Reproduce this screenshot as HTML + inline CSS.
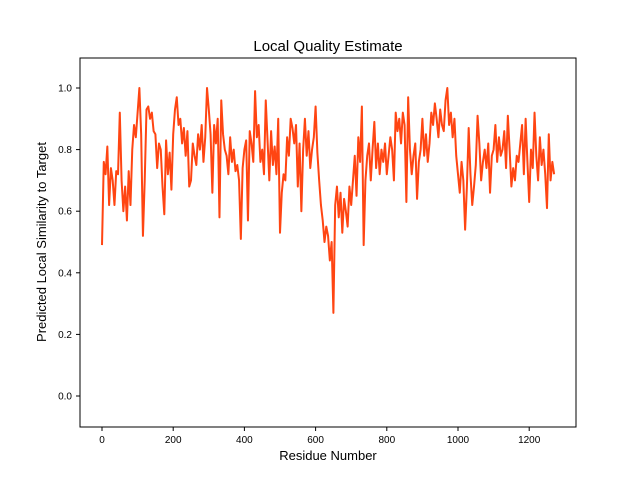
<!DOCTYPE html>
<html><head><meta charset="utf-8"><style>
body{margin:0;background:#fff}
svg{display:block;font-family:"Liberation Sans","DejaVu Sans",sans-serif}
</style></head><body>
<svg id="chart" width="640" height="480" viewBox="0 0 640 480">
<rect width="640" height="480" fill="#fff"/>
<text x="328" y="51" font-size="15" text-anchor="middle" fill="#000">Local Quality Estimate</text>
<text x="328" y="460" font-size="13" text-anchor="middle" fill="#000">Residue Number</text>
<text transform="translate(46,242) rotate(-90)" font-size="13" text-anchor="middle" fill="#000">Predicted Local Similarity to Target</text>
<g id="xt"></g>
<g id="yt"></g>
<path id="line" fill="none" stroke="#ff4512" stroke-width="2" stroke-linejoin="round"/>
<rect x="80" y="58" width="496" height="369" fill="none" stroke="#000" stroke-width="1"/>
</svg>
<script>
const residueStep = 5;
const qualityValues = [
0.49,0.76,0.72,0.81,0.62,0.74,0.70,0.62,0.73,0.72,
0.92,0.70,0.60,0.68,0.57,0.73,0.62,0.80,0.88,0.84,
0.92,1.00,0.85,0.52,0.70,0.93,0.94,0.90,0.92,0.86,
0.85,0.74,0.82,0.80,0.68,0.59,0.83,0.72,0.79,0.67,
0.85,0.93,0.97,0.88,0.90,0.82,0.87,0.78,0.86,0.68,
0.70,0.82,0.78,0.75,0.85,0.80,0.88,0.76,0.84,1.00,
0.93,0.85,0.66,0.88,0.82,0.90,0.58,0.96,0.85,0.80,
0.78,0.72,0.84,0.76,0.80,0.73,0.75,0.70,0.51,0.74,
0.80,0.83,0.57,0.86,0.82,0.76,0.99,0.84,0.88,0.76,
0.80,0.72,0.96,0.83,0.70,0.86,0.75,0.81,0.72,0.90,
0.53,0.66,0.72,0.70,0.84,0.78,0.90,0.87,0.82,0.88,
0.68,0.82,0.60,0.80,0.90,0.78,0.86,0.74,0.80,0.84,
0.94,0.79,0.70,0.62,0.57,0.50,0.55,0.52,0.44,0.50,
0.27,0.62,0.68,0.58,0.66,0.53,0.64,0.60,0.55,0.68,
0.62,0.70,0.78,0.65,0.84,0.76,0.94,0.49,0.70,0.78,
0.82,0.70,0.80,0.89,0.74,0.82,0.72,0.80,0.76,0.82,
0.72,0.78,0.84,0.80,0.70,0.92,0.86,0.90,0.82,0.92,
0.88,0.63,0.97,0.80,0.72,0.78,0.82,0.64,0.76,0.80,
0.90,0.78,0.85,0.76,0.82,0.92,0.88,0.95,0.90,0.84,
0.93,0.88,0.86,0.96,1.00,0.88,0.92,0.84,0.90,0.78,
0.72,0.66,0.76,0.70,0.54,0.68,0.87,0.72,0.62,0.68,
0.75,0.91,0.82,0.70,0.76,0.80,0.74,0.82,0.66,0.78,
0.80,0.88,0.76,0.84,0.78,0.80,0.86,0.74,0.91,0.80,
0.68,0.74,0.70,0.78,0.76,0.82,0.88,0.72,0.90,0.76,
0.63,0.80,0.74,0.92,0.78,0.70,0.84,0.75,0.80,0.72,
0.61,0.85,0.70,0.76,0.72];
const xTicks = [0,200,400,600,800,1000,1200];
const yTicks = [0.0,0.2,0.4,0.6,0.8,1.0];
const yTickLabels = ["0.0","0.2","0.4","0.6","0.8","1.0"];

const NS = "http://www.w3.org/2000/svg";
const xScale = v => 102 + v * 0.356;
const yScale = v => 396 - v * 308;

const xt = document.getElementById('xt');
xTicks.forEach(t => {
  const x = xScale(t);
  const l = document.createElementNS(NS,'line');
  l.setAttribute('x1',x);l.setAttribute('x2',x);l.setAttribute('y1',427);l.setAttribute('y2',431);
  l.setAttribute('stroke','#000');
  
  
  xt.appendChild(l);
  const tx = document.createElementNS(NS,'text');
  tx.setAttribute('x',x);tx.setAttribute('y',443);tx.setAttribute('font-size','10');tx.setAttribute('text-anchor','middle');
  tx.textContent = t;
  
  
  xt.appendChild(tx);
});
const yt = document.getElementById('yt');
yTicks.forEach((t,i) => {
  const y = yScale(t);
  const l = document.createElementNS(NS,'line');
  l.setAttribute('x1',76);l.setAttribute('x2',80);l.setAttribute('y1',y);l.setAttribute('y2',y);
  l.setAttribute('stroke','#000');
  
  
  yt.appendChild(l);
  const tx = document.createElementNS(NS,'text');
  tx.setAttribute('x',72);tx.setAttribute('y',y+3.5);tx.setAttribute('font-size','10');tx.setAttribute('text-anchor','end');
  tx.textContent = yTickLabels[i];
  
  
  yt.appendChild(tx);
});
let d = '';
qualityValues.forEach((v,i) => {
  d += (i ? 'L' : 'M') + xScale(i*residueStep).toFixed(2) + ',' + yScale(v).toFixed(2);
});
document.getElementById('line').setAttribute('d', d);
</script>
</body></html>
